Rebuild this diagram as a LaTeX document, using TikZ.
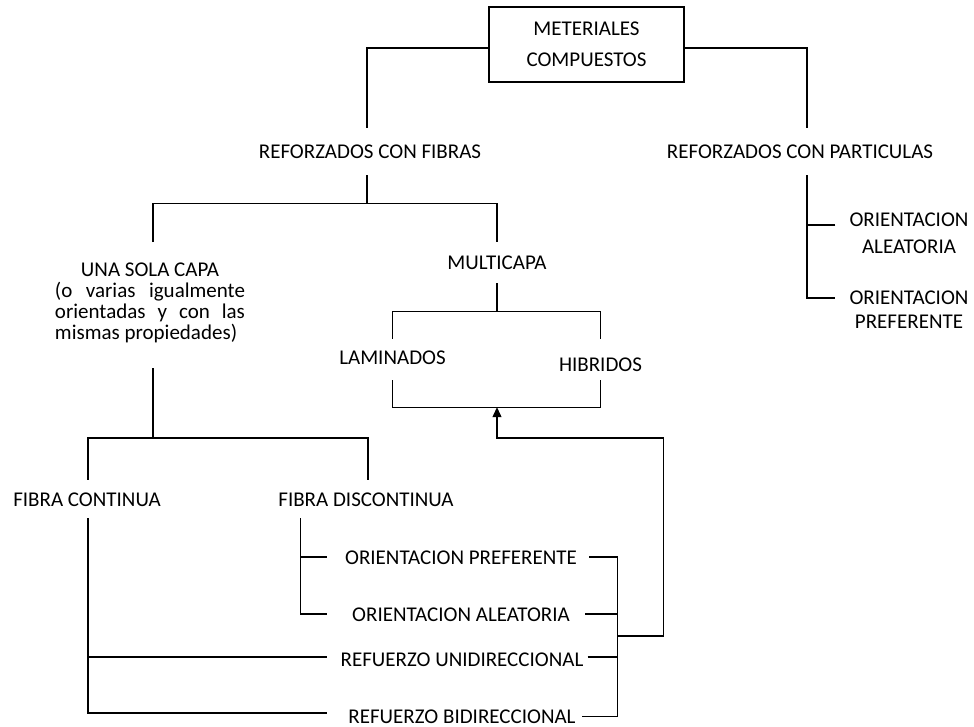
\documentclass[tikz,border=0pt]{standalone}
\usepackage{fontspec}
\setmainfont{Carlito}
\usetikzlibrary{arrows.meta,calc}
\begin{document}
\begin{tikzpicture}[x=1bp,y=-1bp,
  lbl/.style={inner sep=0pt,text height=13.5bp,text depth=0pt,anchor=base,font=\fontsize{21bp}{25bp}\selectfont},
  multi/.style={inner sep=0pt,align=center},
  link/.style={line width=1.2bp}]
\useasboundingbox (0,0) rectangle (974,727);

\node[draw,line width=1.2bp,minimum width=195bp,minimum height=75bp,inner sep=0pt,align=center,font=\fontsize{21bp}{31bp}\selectfont] (mat) at (586.5,44.5) {METERIALES\\COMPUESTOS};
\node[lbl] (rcf) at (370,158.75) {REFORZADOS CON FIBRAS};
\node[lbl] (rcp) at (800,158.75) {REFORZADOS CON PARTICULAS};
\node[multi,font=\fontsize{21bp}{27bp}\selectfont] (pa1) at (909,233.5) {ORIENTACION\\ALEATORIA};
\node[multi,font=\fontsize{21bp}{24bp}\selectfont] (pa2) at (909,310) {ORIENTACION\\PREFERENTE};
\node[anchor=north,text width=190bp,align=justify,inner sep=0pt,font=\fontsize{21bp}{21bp}\selectfont] (usc) at (150,262.25)
  {{\centering UNA SOLA CAPA\par}(o varias igualmente\linebreak orientadas y con las\linebreak mismas propiedades)};
\node[lbl] (mul) at (497,269.75) {MULTICAPA};
\node[lbl] (lam) at (392.5,364.75) {LAMINADOS};
\node[lbl] (hib) at (600.5,371.75) {HIBRIDOS};
\node[lbl] (fc) at (87,506.75) {FIBRA CONTINUA};
\node[lbl] (fd) at (366,506.75) {FIBRA DISCONTINUA};
\node[lbl] (op) at (461,564.75) {ORIENTACION PREFERENTE};
\node[lbl] (oa) at (461,621.75) {ORIENTACION ALEATORIA};
\node[lbl] (ru) at (462,666.75) {REFUERZO UNIDIRECCIONAL};
\node[lbl] (rb) at (462,723.25) {REFUERZO BIDIRECCIONAL};

% top level
\draw[link] ([yshift=-3.5bp]mat.west) -| ([xshift=-3bp,yshift=17.25bp]rcf.north);
\draw[link] ([yshift=-3.5bp]mat.east) -| ([xshift=7bp,yshift=17.25bp]rcp.north);

% fibres
\draw[link] ([xshift=-3bp,yshift=-16.25bp]rcf.south) -- ++(0,28) coordinate (j1);
\draw[link] ([xshift=3bp,yshift=20.25bp]usc.north) |- (j1) -| ([yshift=14.25bp]mul.north);

% particles
\coordinate (pv) at ([xshift=7bp,yshift=-16.25bp]rcp.south);
\coordinate (pt1) at ([xshift=-14bp,yshift=8.5bp]pa1.west);
\coordinate (pt2) at ([xshift=-14bp,yshift=12bp]pa2.west);
\draw[link] (pv) |- (pt2);
\draw[link] (pt1) -- (pt1 -| pv);

% multicapa
\draw[link] ([yshift=-13.25bp]mul.south) -- ++(0,28) coordinate (j2);
\draw[link] ([yshift=12.25bp]lam.north) |- (j2) -| ([yshift=19.25bp]hib.north);
\draw[link] ([yshift=-15.25bp]lam.south) -- ++(0,27) coordinate (bb) -| ([yshift=-8.25bp]hib.south);
\coordinate (ar) at (mul.south |- bb);

% una sola capa
\draw[link] ([xshift=3bp,yshift=-105.75bp]usc.north) -- ++(0,70) coordinate (j4);
\draw[link] ([xshift=1bp,yshift=13.25bp]fc.north) |- (j4) -| ([xshift=2bp,yshift=13.25bp]fd.north);

% fibra discontinua
\coordinate (fdv) at ([xshift=22bp,yshift=-11.25bp]fd.south west);
\coordinate (lx) at ([xshift=-18bp,yshift=1bp]op.west);
\coordinate (oaW) at ([yshift=1bp]oa.west);
\draw[link] (fdv) |- (oaW -| lx);
\draw[link] (lx) -- (lx -| fdv);

% fibra continua
\coordinate (fcv) at ([xshift=1bp,yshift=-11.25bp]fc.south);
\coordinate (ruW) at ([yshift=3bp]ru.west);
\coordinate (rbW) at ([yshift=3.5bp]rb.west);
\draw[link] (fcv) |- (rbW -| lx);
\draw[link] (ruW -| lx) -- (ruW -| fcv);

% right bracket
\coordinate (opR) at ([xshift=12bp,yshift=1bp]op.east);
\coordinate (rx) at ([xshift=40bp,yshift=1bp]op.east);
\coordinate (oaR) at ([xshift=15bp,yshift=1bp]oa.east);
\coordinate (ruR) at ([xshift=4bp,yshift=3bp]ru.east);
\coordinate (rbR) at ([xshift=6bp]rb.east);
\draw[link] (opR) -- (rx) |- (rbR);
\draw[link] (oaR) -- (oaR -| rx);
\draw[link] (ruR) -- (ruR -| rx);

% feedback arrow
\coordinate (fb) at ([yshift=-79bp]rx);
\coordinate (ab) at (ar |- j4);
\draw[link,-{Triangle[width=9bp,length=10bp]}] (fb) -- ++(46,0) |- (ab) -- (ar);
\end{tikzpicture}
\end{document}
